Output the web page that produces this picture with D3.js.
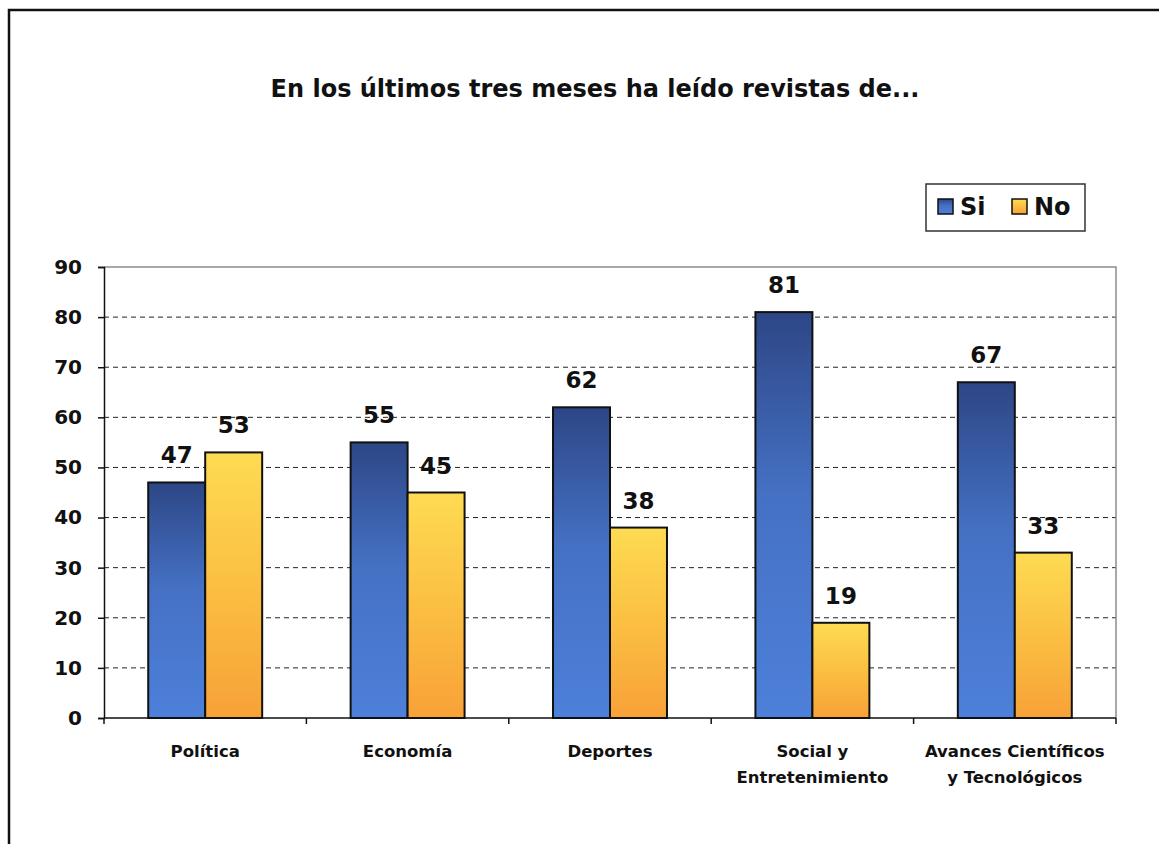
<!DOCTYPE html>
<html>
<head>
<meta charset="utf-8">
<script src="https://cdn.jsdelivr.net/npm/d3@7"></script>
<style>
  html, body { margin: 0; padding: 0; background: #fff; }
  svg { display: block; }
  text { font-family: "DejaVu Sans", sans-serif; font-weight: bold; fill: #111; }
</style>
</head>
<body>
<svg id="chart" width="1159" height="844"></svg>
<script>
// Survey data: magazine readership in the last three months
const categories = [
  ["Política"],
  ["Economía"],
  ["Deportes"],
  ["Social y", "Entretenimiento"],
  ["Avances Científicos", "y Tecnológicos"]
];
const seriesNames = ["Si", "No"];
const siValues = [47, 55, 62, 81, 67];
const noValues = [53, 45, 38, 19, 33];
const yTicks = [0, 10, 20, 30, 40, 50, 60, 70, 80, 90];
const title = "En los últimos tres meses ha leído revistas de...";

const svg = d3.select("#chart");
const W = 1159, H = 844;
const plot = { left: 104, right: 1116, top: 267, bottom: 718 };

// Gradients: darker top to brighter bottom for each bar
const defs = svg.append("defs");
const gSi = defs.append("linearGradient").attr("id", "gradSi")
  .attr("x1", 0).attr("y1", 0).attr("x2", 0).attr("y2", 1);
gSi.append("stop").attr("offset", "0%").attr("stop-color", "#2d4686");
gSi.append("stop").attr("offset", "45%").attr("stop-color", "#4571c4");
gSi.append("stop").attr("offset", "100%").attr("stop-color", "#4d80da");
const gNo = defs.append("linearGradient").attr("id", "gradNo")
  .attr("x1", 0).attr("y1", 0).attr("x2", 0).attr("y2", 1);
gNo.append("stop").attr("offset", "0%").attr("stop-color", "#fedb52");
gNo.append("stop").attr("offset", "50%").attr("stop-color", "#fbbf42");
gNo.append("stop").attr("offset", "100%").attr("stop-color", "#f8a138");
const fills = { Si: "url(#gradSi)", No: "url(#gradNo)" };

// Outer frame (left and top edges visible)
svg.append("path")
  .attr("d", `M9,${H + 2} L9,10 L${W + 2},10`)
  .attr("fill", "none").attr("stroke", "#111").attr("stroke-width", 2.5);

// Title
svg.append("text")
  .attr("x", 595).attr("y", 97)
  .attr("text-anchor", "middle")
  .style("font-size", "24px")
  .text(title);

// Scales
const x0 = d3.scaleBand()
  .domain(d3.range(categories.length))
  .range([plot.left, plot.right])
  .padding(0);
const x1 = d3.scaleBand()
  .domain(seriesNames)
  .range([0, x0.bandwidth()])
  .paddingInner(0)
  .paddingOuter(0.776);
const y = d3.scaleLinear().domain([0, 90]).range([plot.bottom, plot.top]);

// Dashed gridlines
svg.append("g")
  .selectAll("line")
  .data(yTicks.filter(t => t > 0 && t < 90))
  .join("line")
  .attr("x1", plot.left).attr("x2", plot.right)
  .attr("y1", d => y(d)).attr("y2", d => y(d))
  .attr("stroke", "#222").attr("stroke-width", 1)
  .attr("stroke-dasharray", "5,4");

// Plot area border (top and right)
svg.append("path")
  .attr("d", `M${plot.left},${plot.top} L${plot.right},${plot.top} L${plot.right},${plot.bottom}`)
  .attr("fill", "none").attr("stroke", "#8a8a96").attr("stroke-width", 1.5);

// Bars
const rows = categories.map((c, i) => ({ i, Si: siValues[i], No: noValues[i] }));
const groups = svg.append("g").selectAll("g")
  .data(rows).join("g")
  .attr("transform", d => `translate(${x0(d.i)},0)`);

groups.selectAll("rect")
  .data(d => seriesNames.map(k => ({ key: k, value: d[k] })))
  .join("rect")
  .attr("x", d => x1(d.key))
  .attr("y", d => y(d.value))
  .attr("width", x1.bandwidth())
  .attr("height", d => y(0) - y(d.value))
  .attr("fill", d => fills[d.key])
  .attr("stroke", "#111").attr("stroke-width", 2);

// Value labels
groups.selectAll("text.val")
  .data(d => seriesNames.map(k => ({ key: k, value: d[k] })))
  .join("text")
  .attr("class", "val")
  .attr("x", d => x1(d.key) + x1.bandwidth() / 2)
  .attr("y", d => y(d.value) - 19)
  .attr("text-anchor", "middle")
  .style("font-size", "23px")
  .text(d => d.value);

// Y axis
const yAxis = d3.axisLeft(y).tickValues(yTicks).tickSize(6).tickPadding(16);
const gy = svg.append("g")
  .attr("transform", `translate(${plot.left},0)`)
  .call(yAxis);
gy.select(".domain").attr("stroke", "#111").attr("stroke-width", 1.5);
gy.selectAll(".tick line").attr("stroke", "#111").attr("stroke-width", 1.5);
gy.selectAll(".tick text")
  .style("font-size", "20px")
  .style("font-family", "'DejaVu Sans', sans-serif")
  .style("font-weight", "bold")
  .attr("fill", "#111");

// X axis with ticks at category boundaries
const boundaries = d3.range(categories.length + 1).map(i => plot.left + i * x0.step());
svg.append("line")
  .attr("x1", plot.left).attr("x2", plot.right)
  .attr("y1", plot.bottom).attr("y2", plot.bottom)
  .attr("stroke", "#111").attr("stroke-width", 1.5);
svg.append("g").selectAll("line")
  .data(boundaries).join("line")
  .attr("x1", d => d).attr("x2", d => d)
  .attr("y1", plot.bottom).attr("y2", plot.bottom + 6)
  .attr("stroke", "#111").attr("stroke-width", 1.5);

// Category labels
const catLabels = svg.append("g").selectAll("text")
  .data(categories).join("text")
  .attr("x", (d, i) => x0(i) + x0.bandwidth() / 2)
  .attr("y", 757)
  .attr("text-anchor", "middle")
  .style("font-size", "16.5px");
catLabels.selectAll("tspan")
  .data(d => d).join("tspan")
  .attr("x", function () { return this.parentNode.getAttribute("x"); })
  .attr("dy", (d, j) => j === 0 ? 0 : 26)
  .text(d => d);

// Legend
const legend = svg.append("g").attr("transform", "translate(926,184)");
legend.append("rect")
  .attr("width", 159).attr("height", 47)
  .attr("fill", "#fff").attr("stroke", "#333").attr("stroke-width", 1.5);
const legendItems = legend.selectAll("g")
  .data(seriesNames).join("g")
  .attr("transform", (d, i) => `translate(${i === 0 ? 12 : 86},0)`);
legendItems.append("rect")
  .attr("y", 15).attr("width", 15).attr("height", 15)
  .attr("fill", d => fills[d]).attr("stroke", "#111").attr("stroke-width", 1.5);
legendItems.append("text")
  .attr("x", 22).attr("y", 31)
  .style("font-size", "24px")
  .text(d => d);
</script>
</body>
</html>
